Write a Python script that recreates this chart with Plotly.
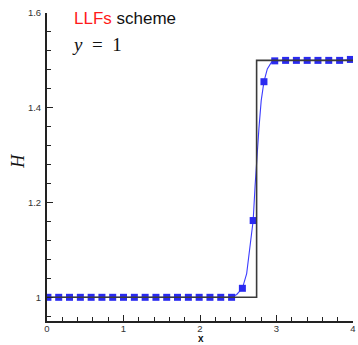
import plotly.graph_objects as go

# Sampled points of the LLFs solution (square markers)
marker_x = [0.012, 0.153, 0.294, 0.436, 0.577, 0.718, 0.859, 1.000, 1.142, 1.283,
            1.424, 1.565, 1.706, 1.848, 1.989, 2.130, 2.271, 2.413, 2.554, 2.695,
            2.836, 2.977, 3.119, 3.260, 3.401, 3.542, 3.683, 3.825, 3.966]
marker_h = [1.0, 1.0, 1.0, 1.0, 1.0, 1.0, 1.0, 1.0, 1.0, 1.0,
            1.0, 1.0, 1.0, 1.0, 1.0, 1.0, 1.0, 1.0, 1.019, 1.162,
            1.455, 1.499, 1.5, 1.5, 1.5, 1.5, 1.5, 1.5, 1.502]

# Full-resolution LLFs profile (thin blue line)
line_x = [0.0, 2.413, 2.48, 2.554, 2.61, 2.667, 2.695, 2.72, 2.745, 2.77,
          2.80, 2.836, 2.88, 2.93, 2.977, 3.119, 3.825, 3.966, 4.0]
line_h = [1.0, 1.0, 1.006, 1.019, 1.05, 1.122, 1.162, 1.235, 1.30, 1.356,
          1.415, 1.455, 1.482, 1.495, 1.499, 1.5, 1.5, 1.502, 1.502]

# Reference (exact) step solution
exact_x = [0.0, 2.74, 2.74, 4.0]
exact_h = [1.0, 1.0, 1.5, 1.5]

x_ticks = [0, 1, 2, 3, 4]
y_ticks = [1.0, 1.2, 1.4, 1.6]
y_tick_text = ["1", "1.2", "1.4", "1.6"]

blue = "#2a2af0"
axis_col = "#222222"
tick_font = dict(family="Liberation Sans, Arial, sans-serif", size=9.5, color="#333333")

fig = go.Figure()
fig.add_trace(go.Scatter(x=line_x, y=line_h, mode="lines",
                         line=dict(color="#3b3bff", width=1.1), showlegend=False))
fig.add_trace(go.Scatter(x=marker_x, y=marker_h, mode="markers",
                         marker=dict(symbol="square", size=7, color=blue,
                                     line=dict(width=0)), showlegend=False))
fig.add_trace(go.Scatter(x=exact_x, y=exact_h, mode="lines",
                         line=dict(color="#3a3a3a", width=1.6), showlegend=False))

fig.update_layout(
    width=358, height=345,
    margin=dict(l=47, r=2, t=13, b=24),
    paper_bgcolor="white", plot_bgcolor="white",
    xaxis=dict(range=[0, 4], tickvals=x_ticks, ticktext=[str(v) for v in x_ticks],
               showgrid=False, zeroline=False, showline=True, linewidth=2,
               linecolor=axis_col, ticks="inside", ticklen=6, tickwidth=1.3,
               tickcolor=axis_col, tickfont=tick_font, ticklabelstandoff=-2,
               ticklabeloverflow="allow",
               minor=dict(ticks="inside", dtick=0.2, ticklen=4, tickwidth=1,
                          tickcolor=axis_col, showgrid=False)),
    yaxis=dict(range=[0.95, 1.6], tickvals=y_ticks, ticktext=y_tick_text,
               showgrid=False, zeroline=False, showline=True, linewidth=2,
               linecolor=axis_col, ticks="inside", ticklen=6, tickwidth=1.3,
               tickcolor=axis_col, tickfont=tick_font, ticklabelstandoff=2,
               ticklabeloverflow="allow",
               minor=dict(ticks="inside", dtick=0.04, tick0=1.0, ticklen=4,
                          tickwidth=1, tickcolor=axis_col, showgrid=False)),
    annotations=[
        dict(text="<span style='color:#ff1a1a'>LLFs</span> scheme",
             xref="paper", yref="paper", x=0.082, y=1.0, xanchor="left", yanchor="middle",
             yshift=-5, showarrow=False,
             font=dict(family="Liberation Sans, Arial, sans-serif", size=17, color="#111111")),
        dict(text="<i>y</i>&nbsp;&nbsp;=&nbsp;&nbsp;1",
             xref="paper", yref="paper", x=0.074, y=1.0, xanchor="left", yanchor="middle",
             yshift=-31, showarrow=False,
             font=dict(family="Liberation Serif, serif", size=19, color="#111111")),
        dict(text="<i>H</i>", xref="paper", yref="paper", x=-0.095, y=0.52,
             xanchor="center", yanchor="middle", textangle=-90, showarrow=False,
             font=dict(family="Liberation Serif, serif", size=18, color="#111111")),
        dict(text="<b>x</b>", xref="paper", yref="paper", x=0.503, y=-24 / 308,
             xanchor="center", yanchor="bottom", borderpad=0, showarrow=False,
             font=dict(family="Liberation Sans, Arial, sans-serif", size=10, color="#111111")),
    ],
)

fig.write_html("out.html")
